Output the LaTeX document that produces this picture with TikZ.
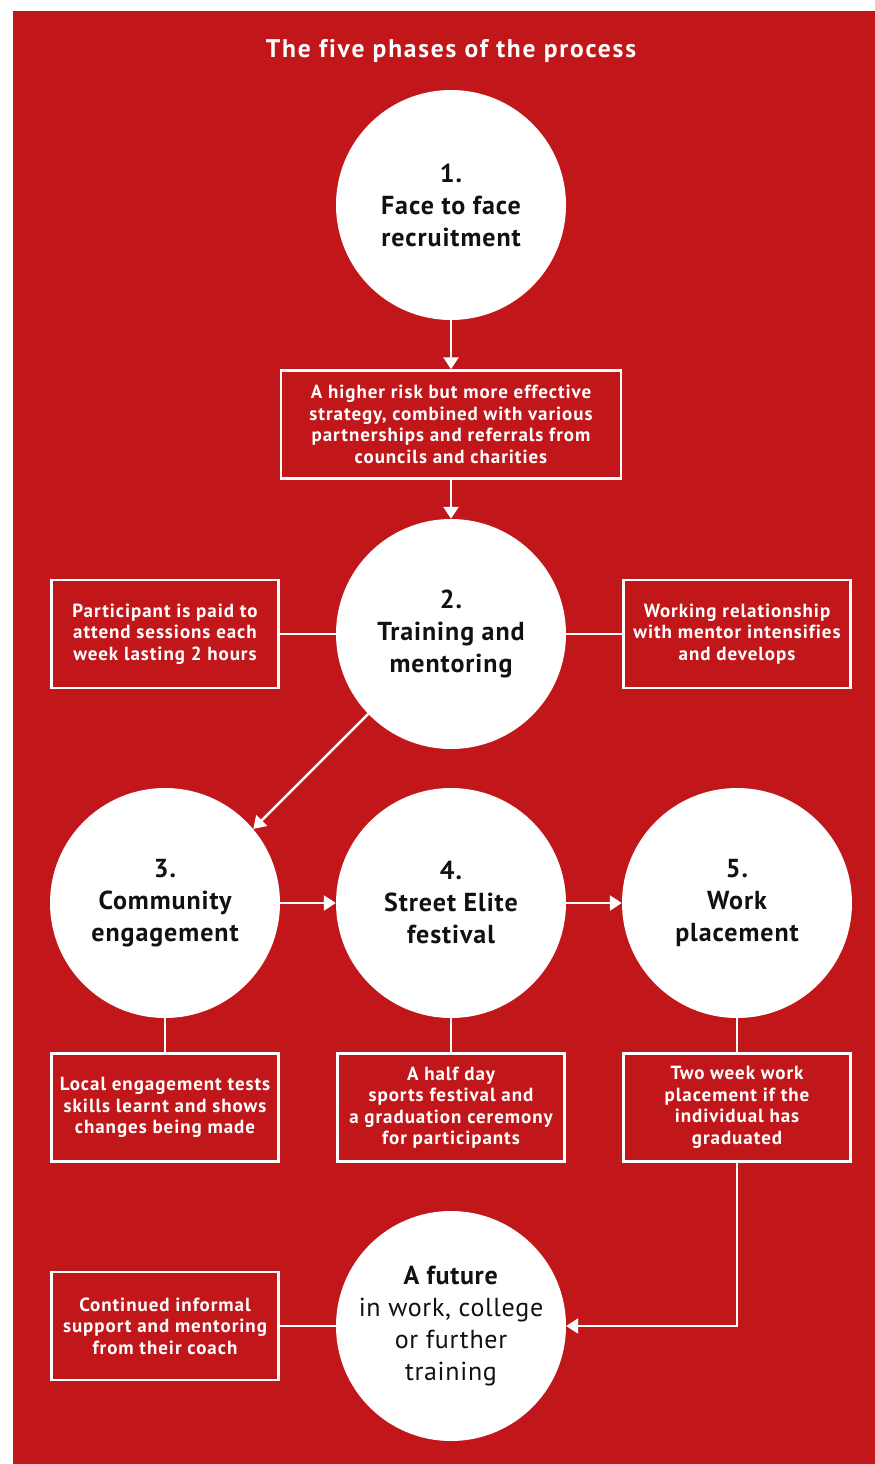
\documentclass[tikz,border=0pt]{standalone}
\usepackage{fontspec}
\setmainfont{PT Sans}
\newfontfamily\titlefont[LetterSpace=7,Ligatures=NoCommon]{PT Sans}
\newfontfamily\boxfont[LetterSpace=5,Ligatures=NoCommon]{PT Sans}
\newfontfamily\circfont[LetterSpace=3.6,Ligatures=NoCommon]{PT Sans}
\newfontfamily\futfont[LetterSpace=2.7,Ligatures=NoCommon]{PT Sans}
\usetikzlibrary{arrows.meta}
\definecolor{bgred}{HTML}{C1171A}
\definecolor{inkblack}{HTML}{111111}
\begin{document}
\begin{tikzpicture}[x=1pt,y=-1pt,
  phase/.style={circle,fill=white,minimum size=230pt,inner sep=0pt,align=center,
    font=\circfont\fontsize{26}{32}\selectfont\bfseries,text=inkblack},
  infobox/.style={draw=white,line width=2.5pt,minimum width=227pt,minimum height=108pt,
    inner sep=0pt,align=center,text=white,font=\boxfont\fontsize{19}{21.5}\selectfont\bfseries},
  link/.style={draw=white,line width=2.5pt},
  arr/.style={link,-{Triangle[width=15pt,length=12pt]}}
]
\useasboundingbox (0,0) rectangle (875,1464);
\fill[white] (0,0) rectangle (875,1464);
\fill[bgred] (13,11) rectangle (875,1464);

\node[text=white,font=\titlefont\fontsize{25.5}{30}\selectfont\bfseries] (title) at (451,51) {The five phases of the process};

\node[phase] (c1) at (451,205) {1.\\Face to face\\recruitment};
\node[infobox,minimum width=340pt] (bA) at (451,424.5) {A higher risk but more effective\\strategy, combined with various\\partnerships and referrals from\\councils and charities};
\node[phase] (c2) at (451,634) {2.\\Training and\\mentoring};
\node[infobox] (bL) at (165,634) {Participant is paid to\\attend sessions each\\week lasting 2 hours};
\node[infobox] (bR) at (737,634) {Working relationship\\with mentor intensifies\\and develops};

\node[phase] (c3) at (165,903) {3.\\Community\\engagement};
\node[phase] (c4) at (451,903) {4.\\Street Elite\\festival};
\node[phase] (c5) at (737,903) {5.\\Work\\placement};

\node[infobox] (b3) at (165,1107.5) {Local engagement tests\\skills learnt and shows\\changes being made};
\node[infobox] (b4) at (451,1107.5) {A half day\\sports festival and\\a graduation ceremony\\for participants};
\node[infobox] (b5) at (737,1107.5) {Two week work\\placement if the\\individual has\\graduated};

\node[phase,font=\futfont\fontsize{26}{32}\selectfont] (fut) at (451,1326) {\textbf{A future}\\in work, college\\or further\\training};
\node[infobox] (bF) at (165,1326) {Continued informal\\support and mentoring\\from their coach};

\draw[arr] (c1.south) -- (bA.north);
\draw[arr] (bA.south) -- (c2.north);
\draw[link] (c2.west) -- (bL.east);
\draw[link] (c2.east) -- (bR.west);
\draw[arr] (c2.224) -- (c3.40);
\draw[arr] (c3.east) -- (c4.west);
\draw[arr] (c4.east) -- (c5.west);
\draw[link] (c3.south) -- (b3.north);
\draw[link] (c4.south) -- (b4.north);
\draw[link] (c5.south) -- (b5.north);
\draw[arr] (b5.south) |- (fut.east);
\draw[link] (fut.west) -- (bF.east);
\end{tikzpicture}
\end{document}
